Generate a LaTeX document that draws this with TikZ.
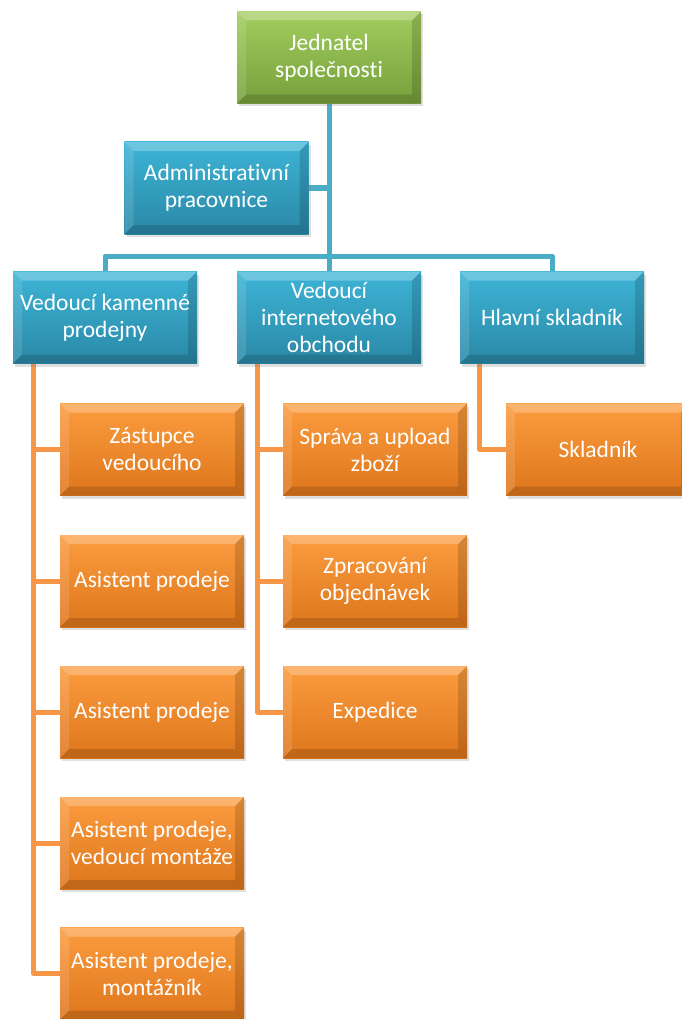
\documentclass[tikz,border=0pt]{standalone}
\usepackage{fontspec}
\setmainfont{Carlito}[Ligatures=CommonOff]
\usetikzlibrary{calc,shadows,backgrounds}

\definecolor{grntop}{HTML}{A2CD5E}
\definecolor{grnbot}{HTML}{76A03B}
\definecolor{blutop}{HTML}{3DB4D6}
\definecolor{blubot}{HTML}{2A88A6}
\definecolor{orgtop}{HTML}{FB9C3F}
\definecolor{orgbot}{HTML}{DE761C}
\definecolor{bluline}{HTML}{4BACC6}
\definecolor{orgline}{HTML}{F79646}

\tikzset{
  bevel/.style={path picture={
    \coordinate (nw) at (path picture bounding box.north west);
    \coordinate (ne) at (path picture bounding box.north east);
    \coordinate (sw) at (path picture bounding box.south west);
    \coordinate (se) at (path picture bounding box.south east);
    \fill[white,opacity=.25] (nw) -- (ne) -- ($(ne)+(-9,9)$) -- ($(nw)+(9,9)$) -- cycle;
    \fill[white,opacity=.12] (nw) -- ($(nw)+(9,9)$) -- ($(sw)+(9,-9)$) -- (sw) -- cycle;
    \fill[black,opacity=.14] (ne) -- (se) -- ($(se)+(-9,-9)$) -- ($(ne)+(-9,9)$) -- cycle;
    \fill[black,opacity=.14] (sw) -- (se) -- ($(se)+(-9,-9)$) -- ($(sw)+(9,-9)$) -- cycle;
  }},
  orgbox/.style={rectangle, minimum width=184pt, minimum height=92pt,
    inner sep=0pt, align=center, text=white,
    font=\fontsize{23.5}{27}\selectfont, bevel,
    drop shadow={shadow xshift=2pt, shadow yshift=-3pt, opacity=.25}},
  topbox/.style={orgbox, top color=grntop, bottom color=grnbot},
  midbox/.style={orgbox, top color=blutop, bottom color=blubot},
  lowbox/.style={orgbox, top color=orgtop, bottom color=orgbot},
  bluconn/.style={draw=bluline, line width=5pt, line join=round},
  orgconn/.style={draw=orgline, line width=5pt, line join=round},
}

\begin{document}
\begin{tikzpicture}[x=1pt,y=-1pt]
\useasboundingbox (0,0) rectangle (682,1019);

% management levels
\node[topbox] (jed) at (329,57.5) {Jednatel\\společnosti};
\node[midbox] (adm) at (216.5,188) {Administrativní\\pracovnice};
\node[midbox] (vk)  at (105,317.5) {Vedoucí kamenné\\prodejny};
\node[midbox] (vi)  at (329,317.5) {Vedoucí\\internetového\\obchodu};
\node[midbox] (hs)  at (552,317.5) {Hlavní skladník};

% staff of the shop
\node[lowbox] (a1) at (152,449.5) {Zástupce\\vedoucího};
\node[lowbox] (a2) at (152,581) {Asistent prodeje};
\node[lowbox] (a3) at (152,712) {Asistent prodeje};
\node[lowbox] (a4) at (152,843) {Asistent prodeje,\\vedoucí montáže};
\node[lowbox] (a5) at (152,973.5) {Asistent prodeje,\\montážník};

% staff of the e-shop
\node[lowbox] (b1) at (375,449.5) {Správa a upload\\zboží};
\node[lowbox] (b2) at (375,581) {Zpracování\\objednávek};
\node[lowbox] (b3) at (375,712) {Expedice};

% warehouse staff
\node[lowbox] (c1) at (598,449.5) {Skladník};

\begin{pgfonlayer}{background}
  \coordinate (bus) at (329,256);
  \draw[bluconn] (jed.south) -- (vi.north);
  \draw[bluconn] (adm.east) -- (adm.east -| jed.south);
  \draw[bluconn] (vk.north) |- (bus) -| (hs.north);

  \coordinate (la) at ([xshift=21pt]vk.south west);
  \draw[orgconn] (la) |- (a5.west);
  \foreach \n in {a1,a2,a3,a4} \draw[orgconn] (la |- \n.west) -- (\n.west);

  \coordinate (lb) at ([xshift=21pt]vi.south west);
  \draw[orgconn] (lb) |- (b3.west);
  \foreach \n in {b1,b2} \draw[orgconn] (lb |- \n.west) -- (\n.west);

  \coordinate (lc) at ([xshift=20pt]hs.south west);
  \draw[orgconn] (lc) |- (c1.west);
\end{pgfonlayer}
\end{tikzpicture}
\end{document}
